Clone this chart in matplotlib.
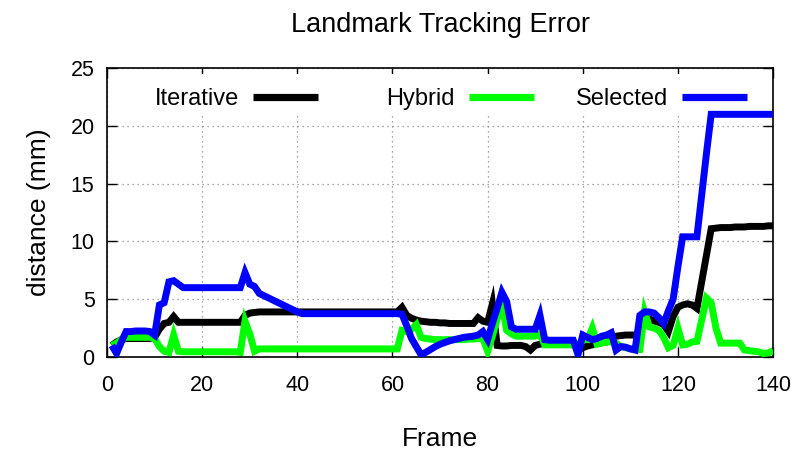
import numpy as np
import matplotlib
matplotlib.use("Agg")
import matplotlib.pyplot as plt
from matplotlib.patches import Rectangle
from matplotlib.legend import Legend

plt.rcParams["font.family"] = ["Liberation Sans", "DejaVu Sans"]

frames = np.arange(1, 141)

iterative = [
    1.0, 1.3, 1.5, 1.6, 1.6, 1.6, 1.6, 1.6, 1.6, 1.7,
    2.4, 2.9, 3.0, 3.5, 3.0, 3.0, 3.0, 3.0, 3.0, 3.0,
    3.0, 3.0, 3.0, 3.0, 3.0, 3.0, 3.0, 3.0, 3.6, 3.8,
    3.85, 3.9, 3.9, 3.9, 3.9, 3.9, 3.9, 3.9, 3.9, 3.9,
    3.9, 3.9, 3.9, 3.9, 3.9, 3.9, 3.9, 3.9, 3.9, 3.9,
    3.9, 3.9, 3.9, 3.9, 3.9, 3.9, 3.9, 3.9, 3.9, 3.9,
    3.9, 4.3, 3.6, 3.35, 3.2, 3.1, 3.05, 3.0, 3.0, 2.95,
    2.95, 2.9, 2.9, 2.9, 2.9, 2.9, 2.9, 3.4, 3.1, 3.0,
    4.6, 1.0, 0.95, 0.95, 1.0, 1.0, 1.0, 0.9, 0.6, 1.0,
    1.1, 1.2, 1.2, 1.2, 1.2, 1.2, 1.2, 1.2, 0.6, 0.8,
    0.95, 1.05, 1.15, 1.25, 1.3, 1.5, 1.8, 1.85, 1.9, 1.9,
    1.9, 2.2, 3.5, 3.3, 3.1, 3.0, 2.8, 2.2, 3.5, 4.3,
    4.5, 4.6, 4.5, 4.2, 6.5, 8.8, 11.1, 11.15, 11.2, 11.2,
    11.2, 11.25, 11.25, 11.25, 11.3, 11.3, 11.3, 11.3, 11.35, 11.35,
]

hybrid = [
    1.0, 1.2, 1.5, 1.7, 1.7, 1.7, 1.7, 1.7, 1.7, 1.6,
    0.9, 0.5, 0.4, 1.9, 0.5, 0.45, 0.45, 0.45, 0.45, 0.45,
    0.45, 0.45, 0.45, 0.45, 0.45, 0.45, 0.45, 0.4, 3.1, 2.0,
    0.5, 0.7, 0.7, 0.7, 0.7, 0.7, 0.7, 0.7, 0.7, 0.7,
    0.7, 0.7, 0.7, 0.7, 0.7, 0.7, 0.7, 0.7, 0.7, 0.7,
    0.7, 0.7, 0.7, 0.7, 0.7, 0.7, 0.7, 0.7, 0.7, 0.7,
    0.7, 2.3, 2.2, 2.4, 2.8, 1.7, 1.6, 1.55, 1.5, 1.5,
    1.5, 1.5, 1.5, 1.5, 1.5, 1.55, 1.55, 1.6, 1.6, 0.5,
    1.8, 3.3, 4.6, 2.3, 2.0, 1.8, 1.8, 1.8, 1.8, 1.8,
    2.0, 1.05, 1.05, 1.05, 1.05, 1.05, 1.05, 1.05, 1.0, 1.5,
    1.5, 2.5, 1.1, 1.2, 1.3, 1.3, 1.2, 0.9, 0.8, 0.7,
    0.65, 0.65, 3.9, 2.6, 2.5, 2.3, 1.7, 0.8, 1.0, 2.5,
    1.05, 1.1, 1.3, 1.35, 3.2, 5.1, 4.7, 2.5, 1.2, 1.2,
    1.2, 1.2, 1.2, 0.6, 0.55, 0.5, 0.45, 0.3, 0.35, 0.55,
]

selected = [
    1.0, 0.3, 1.3, 2.2, 2.2, 2.25, 2.25, 2.25, 2.2, 1.9,
    4.5, 4.7, 6.5, 6.6, 6.3, 6.0, 6.0, 6.0, 6.0, 6.0,
    6.0, 6.0, 6.0, 6.0, 6.0, 6.0, 6.0, 6.0, 7.3, 6.3,
    6.1, 5.5, 5.3, 5.1, 4.9, 4.7, 4.5, 4.3, 4.1, 3.9,
    3.75, 3.75, 3.75, 3.75, 3.75, 3.75, 3.75, 3.75, 3.75, 3.75,
    3.75, 3.75, 3.75, 3.75, 3.75, 3.75, 3.75, 3.75, 3.75, 3.75,
    3.75, 3.7, 2.7, 1.6, 0.9, 0.2, 0.4, 0.65, 0.9, 1.1,
    1.25, 1.4, 1.5, 1.6, 1.7, 1.75, 1.8, 1.9, 2.2, 1.5,
    2.9, 4.2, 5.6, 4.8, 2.6, 2.4, 2.4, 2.4, 2.4, 2.4,
    3.6, 1.5, 1.45, 1.45, 1.45, 1.45, 1.45, 1.45, 0.2, 1.9,
    1.7, 1.5, 1.6, 1.8, 1.9, 2.1, 0.6, 0.9, 0.85, 0.7,
    0.6, 3.6, 3.9, 3.9, 3.8, 3.4, 2.9, 4.0, 5.0, 7.8,
    10.4, 10.4, 10.4, 10.4, 14.0, 17.6, 21.0, 21.0, 21.0, 21.0,
    21.0, 21.0, 21.0, 21.0, 21.0, 21.0, 21.0, 21.0, 21.0, 21.0,
]

series_names = ["Iterative", "Hybrid", "Selected"]
series_colors = ["#000000", "#00ff00", "#0000ff"]
x_ticks = [0, 20, 40, 60, 80, 100, 120, 140]
y_ticks = [0, 5, 10, 15, 20, 25]

fig = plt.figure(figsize=(7.99, 4.54), dpi=100)
ax = fig.add_axes([0.134, 0.2137, 0.8335, 0.6363])

lines = []
for vals, name, col in zip([iterative, hybrid, selected], series_names, series_colors):
    (ln,) = ax.plot(frames, vals, color=col, lw=5.0, label=name,
                    solid_joinstyle="miter", solid_capstyle="butt", zorder=3)
    lines.append(ln)

ax.set_xlim(0, 140)
ax.set_ylim(0, 25)
ax.set_xticks(x_ticks)
ax.set_yticks(y_ticks)
ax.tick_params(direction="in", length=7, width=1.0, top=True, right=True,
               labelsize=15.5)
ax.tick_params(axis="x", pad=13)
ax.tick_params(axis="y", pad=9)
ax.set_axisbelow(True)
ax.grid(True, color="#888888", linestyle=(0, (1, 3)), linewidth=0.9)
for sp in ax.spines.values():
    sp.set_linewidth(1.2)

ax.set_title("Landmark Tracking Error", fontsize=19.5, pad=26)
ax.set_xlabel("Frame", fontsize=19, labelpad=22)
ax.set_ylabel("distance (mm)", fontsize=19, labelpad=14)

# opaque band behind the key
ax.add_patch(Rectangle((0.03, 0.845), 0.95, 0.135, transform=ax.transAxes,
                       facecolor="white", edgecolor="none", zorder=1))

# key entries: right-aligned text followed by the line sample
key_right = [318, 534, 747]
for ln, xr in zip(lines, key_right):
    xa = (xr - 107) / 666.0
    leg = Legend(ax, [ln], [ln.get_label()], loc="center right",
                 bbox_to_anchor=(xa, 0.893), bbox_transform=ax.transAxes,
                 frameon=False, markerfirst=False, fontsize=17,
                 handlelength=2.75, handletextpad=0.6, borderpad=0.0,
                 borderaxespad=0.0)
    for h in leg.legend_handles:
        h.set_linewidth(5.2)
    ax.add_artist(leg)

fig.savefig("out.png", dpi=100)
